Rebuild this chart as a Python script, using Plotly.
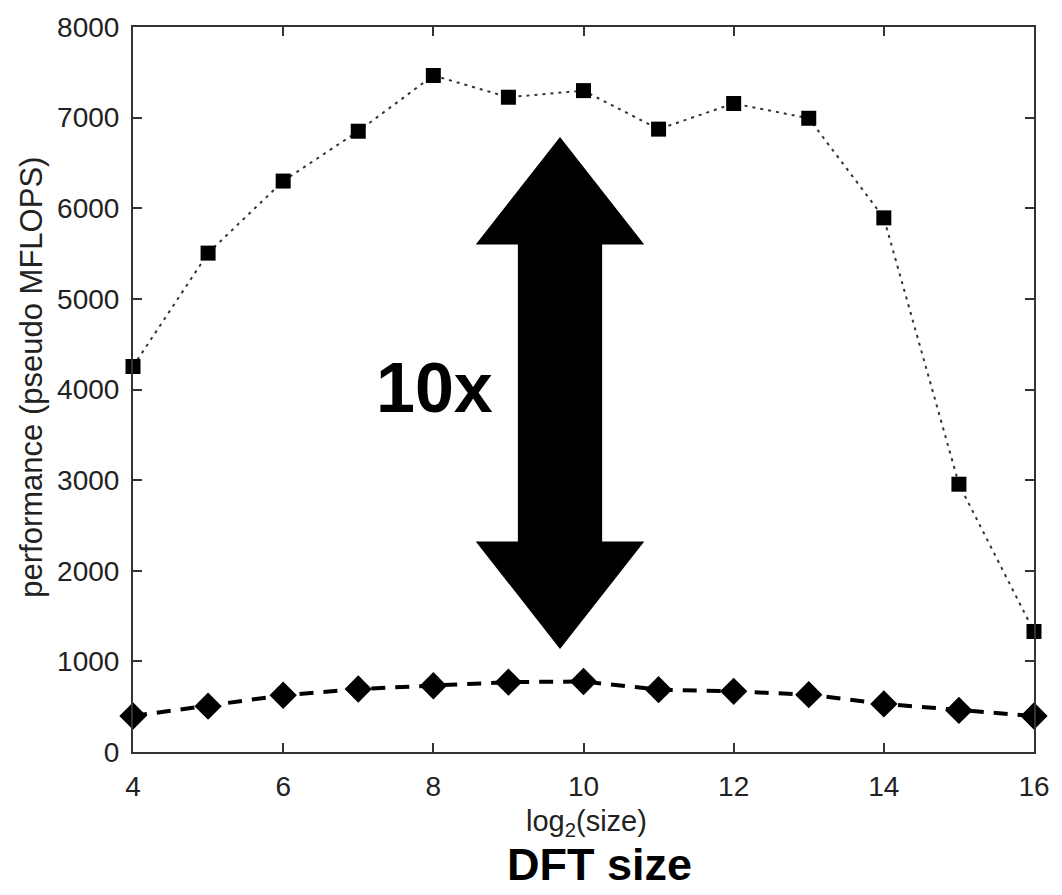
import plotly.graph_objects as go

# ---- data ----
log2_size = [4, 5, 6, 7, 8, 9, 10, 11, 12, 13, 14, 15, 16]
best_perf = [4254, 5505, 6300, 6850, 7465, 7225, 7298, 6873, 7156, 6993, 5894, 2955, 1330]
base_perf = [397, 506, 626, 695, 731, 771, 778, 688, 669, 633, 531, 459, 397]
x_ticks = [4, 6, 8, 10, 12, 14, 16]
y_ticks = [0, 1000, 2000, 3000, 4000, 5000, 6000, 7000, 8000]

# arrow annotation geometry (data coords)
arrow_x = 9.687
arrow_top, arrow_bot = 6786, 1137
head_top_base, head_bot_base = 5600, 2324
head_hw, shaft_hw = 1.1225, 0.561

FONT = "Liberation Sans, Arial, Helvetica, sans-serif"

fig = go.Figure()
fig.add_trace(go.Scatter(
    x=log2_size, y=best_perf, mode="lines+markers",
    line=dict(color="#333333", width=2, dash="3px,5px"),
    marker=dict(symbol="square", size=15, color="black"),
    showlegend=False, cliponaxis=False))
fig.add_trace(go.Scatter(
    x=log2_size, y=base_perf, mode="lines+markers",
    line=dict(color="black", width=4, dash="14px,10px"),
    marker=dict(symbol="diamond", size=21, color="black"),
    showlegend=False, cliponaxis=False))

path = (f"M {arrow_x} {arrow_top} "
        f"L {arrow_x + head_hw} {head_top_base} L {arrow_x + shaft_hw} {head_top_base} "
        f"L {arrow_x + shaft_hw} {head_bot_base} L {arrow_x + head_hw} {head_bot_base} "
        f"L {arrow_x} {arrow_bot} "
        f"L {arrow_x - head_hw} {head_bot_base} L {arrow_x - shaft_hw} {head_bot_base} "
        f"L {arrow_x - shaft_hw} {head_top_base} L {arrow_x - head_hw} {head_top_base} Z")
fig.add_shape(type="path", path=path, xref="x", yref="y",
              fillcolor="black", line=dict(color="black", width=0))

fig.add_annotation(x=8.02, y=4020, xref="x", yref="y", text="<b>10x</b>",
                   showarrow=False, font=dict(family=FONT, size=70, color="black"))

fig.add_annotation(x=(590 - 132.7) / 908.3, y=(751.5 - 803) / 734.8, xref="paper", yref="paper",
                   text="log<sub>2</sub>(size)", showarrow=False, yanchor="top",
                   font=dict(family=FONT, size=29, color="#222222"))
fig.add_annotation(x=(603 - 132.7) / 908.3, y=(751.5 - 866) / 734.8, xref="paper", yref="paper",
                   text="<b>DFT size</b>", showarrow=False, yanchor="middle",
                   font=dict(family=FONT, size=45, color="black"))
fig.add_annotation(x=(30 - 132.7) / 908.3, y=(751.5 - 372) / 734.8, xref="paper", yref="paper",
                   text="performance (pseudo MFLOPS)", textangle=-90, showarrow=False,
                   xanchor="center", yanchor="middle",
                   font=dict(family=FONT, size=31, color="#222222"))

axis_common = dict(showgrid=False, zeroline=False, showline=True, linecolor="#333333",
                   linewidth=2, mirror="ticks", ticks="inside", ticklen=9, tickwidth=1.5,
                   tickcolor="#333333", tickfont=dict(family=FONT, size=28, color="#222222"))
fig.update_xaxes(range=[4, 16], tickvals=x_ticks, ticklabelstandoff=8, **axis_common)
fig.update_yaxes(range=[0, 8000], tickvals=y_ticks, ticklabelstandoff=6, **axis_common)

fig.update_layout(width=1062, height=895,
                  margin=dict(l=133, r=21, t=17, b=143, pad=0),
                  paper_bgcolor="white", plot_bgcolor="white")

fig.write_html("out.html", config={"displayModeBar": False},
               post_script="document.body.style.margin='0px';document.body.style.padding='0px';")
